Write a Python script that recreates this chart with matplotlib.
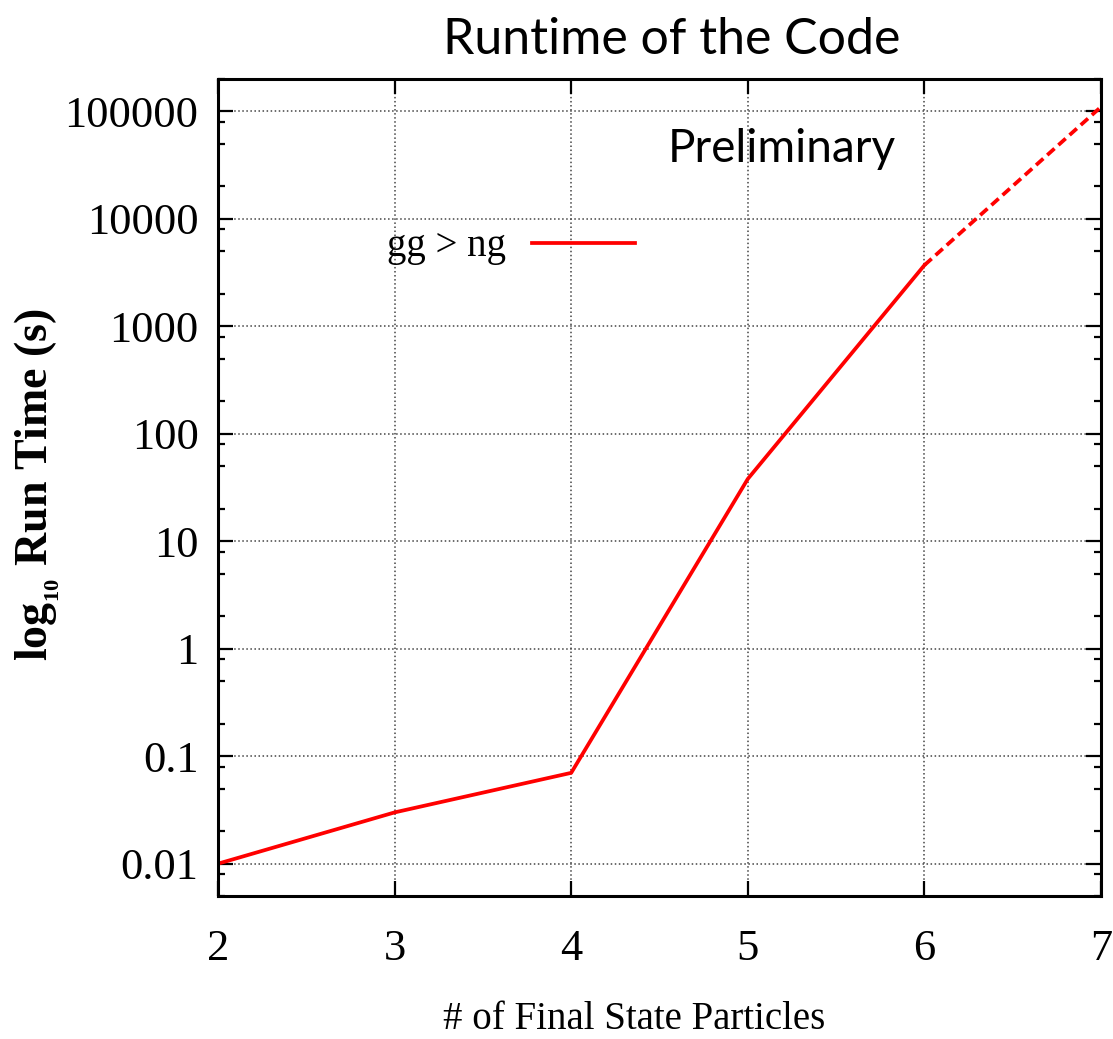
import numpy as np
import matplotlib.pyplot as plt
from matplotlib.ticker import LogLocator, FixedLocator, FixedFormatter, NullFormatter

# measured run times (s) vs number of final state particles
n_particles = [2, 3, 4, 5, 6]
run_time = [0.01, 0.03, 0.07, 38, 3700]
# extrapolated part
n_extrap = [6, 7]
time_extrap = [3700, 110000]

ytick_vals = [0.01, 0.1, 1, 10, 100, 1000, 10000, 100000]
ytick_labels = ["0.01", "0.1", "1", "10", "100", "1000", "10000", "100000"]
xtick_vals = [2, 3, 4, 5, 6, 7]

serif = ['Liberation Serif', 'DejaVu Serif']
sans = ['Lato', 'DejaVu Sans']

plt.rcParams['mathtext.fontset'] = 'custom'
plt.rcParams['mathtext.rm'] = 'Liberation Serif:bold'

fig = plt.figure(figsize=(11.13, 10.39), dpi=100)
ax = fig.add_axes([0.1959, 0.1376, 0.7933, 0.7864])

ax.plot(n_particles, run_time, color='red', lw=2.7, label='gg > ng')
ax.plot(n_extrap, time_extrap, color='red', lw=2.7, ls=(0, (2.6, 1.4)))

ax.set_yscale('log')
ax.set_xlim(2, 7)
ax.set_ylim(0.005, 200000)

ax.yaxis.set_major_locator(FixedLocator(ytick_vals))
ax.yaxis.set_major_formatter(FixedFormatter(ytick_labels))
ax.yaxis.set_minor_locator(LogLocator(base=10, subs=[2, 5, 8], numticks=20))
ax.yaxis.set_minor_formatter(NullFormatter())
ax.set_xticks(xtick_vals)

ax.tick_params(which='both', direction='in', top=True, right=True, width=1.6)
ax.tick_params(which='major', length=11)
ax.tick_params(which='minor', length=5)
ax.tick_params(axis='y', which='major', pad=14)
ax.tick_params(axis='x', which='major', pad=24)
for lab in ax.get_xticklabels() + ax.get_yticklabels():
    lab.set_family(serif)
    lab.set_fontsize(32)

for sp in ax.spines.values():
    sp.set_linewidth(2.2)

ax.grid(True, which='major', ls=':', color='#444444', lw=1.1)

ax.set_xlabel('# of Final State Particles', family=serif, fontsize=28)
ax.xaxis.set_label_coords(0.471, -0.151)
ax.xaxis.label.set_va('center')
ax.set_ylabel(r'log$_{_{10}}$ Run Time (s)', family=serif, fontsize=33,
              fontweight='bold')
ax.yaxis.set_label_coords(-0.205, 0.503)
ax.yaxis.label.set_va('center')

ax.set_title('Runtime of the Code', family=sans, fontsize=36, pad=18, x=0.514)
ax.text(0.639, 0.914, 'Preliminary', transform=ax.transAxes, family=sans,
        fontsize=33, ha='center', va='center')

leg = ax.legend(loc='upper left', bbox_to_anchor=(0.152, 0.86), frameon=False,
                markerfirst=False, handlelength=2.67, handletextpad=0.65,
                prop={'family': serif, 'size': 28})

fig.savefig('out.png', dpi=100)
